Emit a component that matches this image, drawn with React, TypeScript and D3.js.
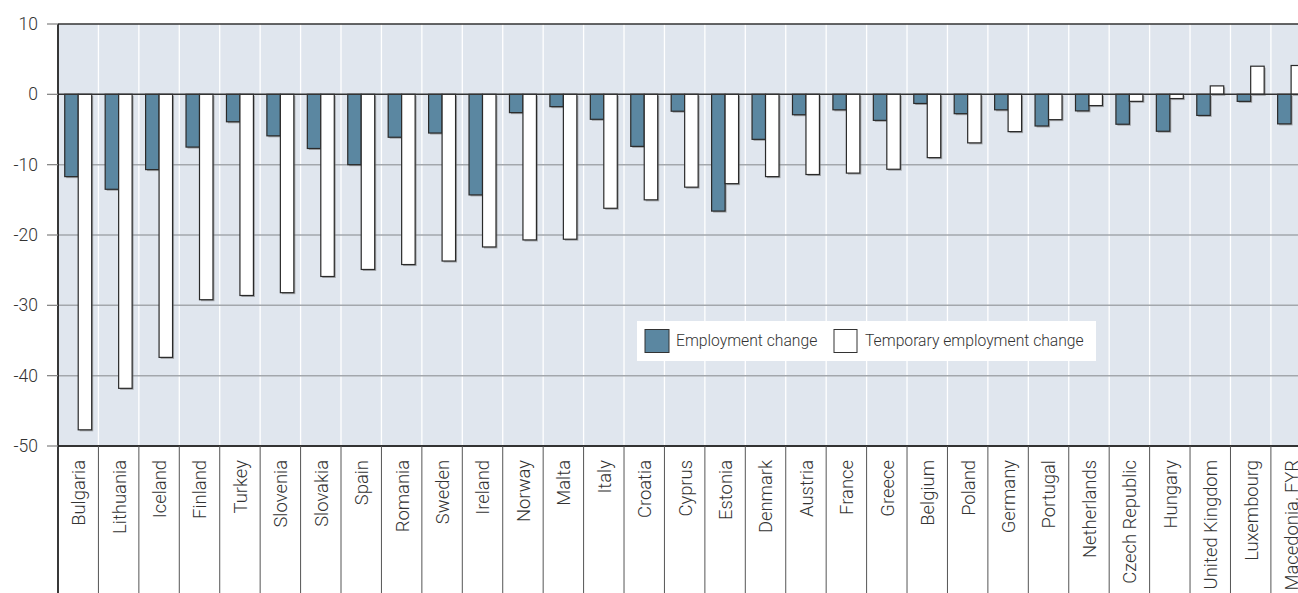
import React from "react";
import * as d3 from "d3";

const countries = ["Bulgaria","Lithuania","Iceland","Finland","Turkey","Slovenia","Slovakia","Spain","Romania","Sweden","Ireland","Norway","Malta","Italy","Croatia","Cyprus","Estonia","Denmark","Austria","France","Greece","Belgium","Poland","Germany","Portugal","Netherlands","Czech Republic","Hungary","United Kingdom","Luxembourg","Macedonia, FYR"];
const employmentChange = [-11.7,-13.5,-10.7,-7.5,-3.9,-5.9,-7.7,-10.0,-6.1,-5.5,-14.3,-2.6,-1.75,-3.55,-7.4,-2.4,-16.6,-6.4,-2.9,-2.2,-3.7,-1.3,-2.75,-2.2,-4.5,-2.35,-4.25,-5.25,-3.0,-1.0,-4.2];
const temporaryChange = [-47.7,-41.8,-37.4,-29.2,-28.6,-28.2,-25.9,-24.9,-24.2,-23.7,-21.7,-20.7,-20.6,-16.2,-15.0,-13.2,-12.7,-11.7,-11.4,-11.2,-10.65,-9.0,-6.9,-5.3,-3.6,-1.6,-1.0,-0.6,1.2,4.0,4.1];
const yTicks = [10, 0, -10, -20, -30, -40, -50];
const seriesNames = ["Employment change", "Temporary employment change"];

const W = 1298, H = 593;
const left = 58, top = 24, bottom = 446;
const step = 40.43;
const FONT = "Roboto, 'Liberation Sans', Arial, sans-serif";
const BLUE = "#5b87a1";
const BG = "#e0e6ee";

export default function App() {
  const x = d3.scaleBand<string>().domain(countries).range([left, left + step * countries.length]).padding(0);
  const inner = d3.scaleBand<string>().domain(["e", "t"]).range([0, x.bandwidth()]).paddingInner(0).paddingOuter(0.5);
  const y = d3.scaleLinear().domain([-50, 10]).range([bottom, top]);
  const bw = inner.bandwidth();
  const rightEdge = left + step * countries.length;

  const bar = (c: string, v: number, key: "e" | "t", fill: string) => {
    const bx = (x(c) as number) + (inner(key) as number);
    const y0 = y(0), y1 = y(v);
    const ry = Math.min(y0, y1), rh = Math.abs(y1 - y0);
    return (
      <g key={c + key}>
        <rect x={bx + 1.5} y={ry + 1.5} width={bw} height={rh} fill="#6f6f6f" opacity={0.55} />
        <rect x={bx} y={ry} width={bw} height={rh} fill={fill} stroke="#2a2a2a" strokeWidth={1.2} />
      </g>
    );
  };

  return (
    <svg width={W} height={H} style={{ position: "absolute", left: 0, top: 0, display: "block", background: "#fff" }} fontFamily={FONT} fontWeight={300}>
      <rect x={left} y={top} width={rightEdge - left} height={bottom - top} fill={BG} />
      {countries.map((c, i) => i > 0 ? (
        <line key={"v" + c} x1={x(c)} x2={x(c)} y1={top} y2={bottom} stroke="#ffffff" strokeWidth={1.3} />
      ) : null)}
      {yTicks.filter(t => t !== 0 && t !== 10 && t !== -50).map(t => (
        <line key={"g" + t} x1={left} x2={rightEdge} y1={y(t)} y2={y(t)} stroke="#a3a7ac" strokeWidth={1.5} />
      ))}
      {countries.map((c, i) => (
        <g key={c}>
          {bar(c, employmentChange[i], "e", BLUE)}
          {bar(c, temporaryChange[i], "t", "#ffffff")}
        </g>
      ))}
      <line x1={left} x2={rightEdge} y1={y(0)} y2={y(0)} stroke="#333" strokeWidth={1.5} />
      <line x1={left} x2={rightEdge} y1={top} y2={top} stroke="#333" strokeWidth={1.5} />
      <line x1={left} x2={rightEdge} y1={bottom} y2={bottom} stroke="#333" strokeWidth={1.8} />
      {countries.map((c, i) => i > 0 ? (
        <line key={"s" + c} x1={x(c)} x2={x(c)} y1={bottom} y2={H} stroke="#555" strokeWidth={1} />
      ) : null)}
      <line x1={left} x2={left} y1={top} y2={H} stroke="#222" strokeWidth={1.8} />
      {yTicks.map(t => (
        <g key={"t" + t}>
          <line x1={47} x2={left} y1={y(t)} y2={y(t)} stroke="#888" strokeWidth={1.3} />
          <text x={38} y={y(t)} dy="0.35em" textAnchor="end" fontSize={17.5} fill="#333">{t}</text>
        </g>
      ))}
      {countries.map(c => {
        const cx = (x(c) as number) + x.bandwidth() / 2;
        return (
          <text key={"l" + c} transform={`translate(${cx + 0.5},460) rotate(-90)`} dy="0.35em" textAnchor="end" fontSize={18.4} fill="#333">{c}</text>
        );
      })}
      <g>
        <rect x={637} y={321} width={459} height={40} fill="#ffffff" />
        <rect x={645} y={329.5} width={24} height={23} fill={BLUE} stroke="#333" strokeWidth={1} />
        <text x={676} y={341} dy="0.35em" fontSize={15.7} fill="#333">{seriesNames[0]}</text>
        <rect x={834} y={329.5} width={23} height={23} fill="#fff" stroke="#333" strokeWidth={1} />
        <text x={865} y={341} dy="0.35em" fontSize={15.7} fill="#333">{seriesNames[1]}</text>
      </g>
    </svg>
  );
}
